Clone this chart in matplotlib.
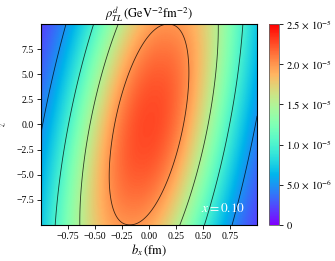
import numpy as np
import matplotlib
matplotlib.use("Agg")
import matplotlib.pyplot as plt

plt.rcParams["font.family"] = ["Liberation Serif", "DejaVu Serif"]
plt.rcParams["mathtext.fontset"] = "stix"
plt.rcParams["font.size"] = 7

# -----------------------------
# Values
# -----------------------------
bx_range = [-1.0, 1.0]          # fm
z_range = [-10.0, 10.0]
peak_value = 2.27e-5            # height of the ridge at z = 0
ridge_slope = 0.0178            # b_x of the ridge moves by this per unit z
width_bx = 0.816                # fm, width across the ridge
shape_power = 2.2               # profile across the ridge
z_falloff = 0.00127             # ridge height drops as exp(-k z^2)

contour_levels = [0.5e-5, 1.0e-5, 1.5e-5, 2.0e-5]
cbar_ticks = [0, 5e-6, 1e-5, 1.5e-5, 2e-5, 2.5e-5]
cbar_labels = [r"$0$", r"$5.0\,\times\,10^{-6}$", r"$1.0\,\times\,10^{-5}$",
               r"$1.5\,\times\,10^{-5}$", r"$2.0\,\times\,10^{-5}$", r"$2.5\,\times\,10^{-5}$"]
x_ticks = [-0.75, -0.50, -0.25, 0.00, 0.25, 0.50, 0.75]
y_ticks = [-7.5, -5.0, -2.5, 0.0, 2.5, 5.0, 7.5]
x_value_label = r"$x=0.10$"

# -----------------------------
# Density on a grid
# -----------------------------
bx = np.linspace(bx_range[0], bx_range[1], 300)
z = np.linspace(z_range[0], z_range[1], 300)
B, Z = np.meshgrid(bx, z)
U = B - ridge_slope * Z
rho = peak_value * np.exp(-np.abs(U / width_bx) ** shape_power) * np.exp(-z_falloff * Z ** 2)

# -----------------------------
# Plot
# -----------------------------
fig = plt.figure(figsize=(3.35, 2.61), dpi=100)
ax = fig.add_axes([0.1224, 0.138, 0.645, 0.770])
cax = fig.add_axes([0.803, 0.138, 0.030, 0.770])

mesh = ax.pcolormesh(B, Z, rho, cmap="rainbow", vmin=0, vmax=2.5e-5,
                     shading="gouraud", rasterized=True)
ax.contour(B, Z, rho, levels=contour_levels, colors="k", linewidths=0.6, alpha=0.75)

ax.set_xlim(bx_range)
ax.set_ylim(z_range)
ax.set_xticks(x_ticks)
ax.set_yticks(y_ticks)
ax.set_xticklabels([f"{v:.2f}".replace("-", "\u2212") for v in x_ticks])
ax.set_yticklabels([f"{v:.1f}".replace("-", "\u2212") for v in y_ticks])
ax.tick_params(length=3, width=0.6, pad=2)
for sp in ax.spines.values():
    sp.set_linewidth(0.8)

ax.set_xlabel(r"$b_x\,(\mathrm{fm})$", fontsize=9, labelpad=1)
ax.set_ylabel(r"$z$", fontsize=7, labelpad=6)
ax.set_title(r"$\rho^{d}_{TL}\,(\mathrm{GeV}^{-2}\mathrm{fm}^{-2})$", fontsize=9, pad=3)
ax.text(0.89, -8.4, x_value_label, color="white", fontsize=9.5,
        ha="right", va="center")

cb = fig.colorbar(mesh, cax=cax, ticks=cbar_ticks)
cb.ax.set_yticklabels(cbar_labels)
cb.ax.tick_params(length=3, width=0.6, pad=2, labelsize=7.5)
cb.outline.set_linewidth(0.6)
cb.outline.set_edgecolor("0.4")

fig.savefig("out.png", dpi=100)
